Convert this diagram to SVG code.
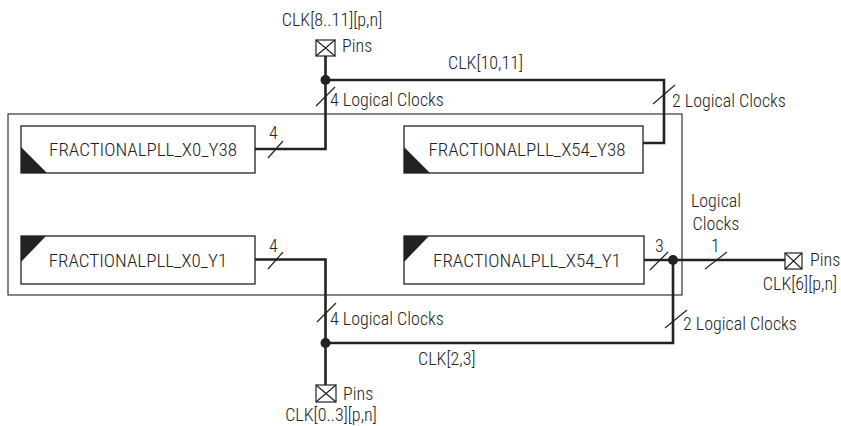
<svg xmlns="http://www.w3.org/2000/svg" width="841" height="426" viewBox="0 0 841 426">
<style>
text{font-family:"Liberation Sans Narrow","Roboto Condensed","Liberation Sans",sans-serif;font-size:18px;font-weight:300;fill:#222}
.lbl{font-size:19px}
.box{fill:#fff;stroke:#222;stroke-width:1.3}
.tri{fill:#222}
.w{fill:none;stroke:#222;stroke-width:2.6}
.sl{stroke:#222;stroke-width:1.2}
.pin{fill:#fff;stroke:#222;stroke-width:1.2}
.dot{fill:#222}
</style>
<rect id="frame" x="8" y="114" width="674" height="181" fill="none" stroke="#222" stroke-width="1.1"/>
<g id="connectors">
<path class="w" d="M325.5,56V149H255"/>
<path class="w" d="M325.5,80H664V143H643"/>
<path class="w" d="M255,259.5H325.5V385"/>
<path class="w" d="M325.5,343H673V260H644"/>
<path class="w" d="M673,260H785"/>
<line class="sl" x1="316" y1="106" x2="335" y2="87"/>
<line class="sl" x1="268" y1="158" x2="283" y2="141"/>
<line class="sl" x1="653" y1="104" x2="675" y2="85"/>
<line class="sl" x1="268" y1="269" x2="283" y2="252"/>
<line class="sl" x1="317" y1="322" x2="336" y2="303"/>
<line class="sl" x1="665" y1="328" x2="687" y2="310"/>
<line class="sl" x1="650" y1="270" x2="668" y2="252"/>
<line class="sl" x1="705" y1="269" x2="727" y2="252"/>
<circle class="dot" cx="325.5" cy="80" r="5"/>
<circle class="dot" cx="325.5" cy="343" r="5"/>
<circle class="dot" cx="673" cy="260" r="5"/>
<text x="330" y="106">4 Logical Clocks</text>
<text x="672" y="107">2 Logical Clocks</text>
<text x="330" y="325">4 Logical Clocks</text>
<text x="683" y="330">2 Logical Clocks</text>
<text x="448" y="69">CLK[10,11]</text>
<text x="418" y="365">CLK[2,3]</text>
<text x="269" y="139">4</text>
<text x="269" y="252">4</text>
<text x="655" y="252">3</text>
<text x="711" y="252">1</text>
<text x="716" y="207" text-anchor="middle">Logical</text>
<text x="716" y="230" text-anchor="middle">Clocks</text>
</g>
<g id="pins-top">
<rect class="pin" x="316" y="40" width="19" height="16"/>
<path class="sl" d="M316,40L335,56M335,40L316,56"/>
<text x="342" y="52">Pins</text>
<text x="332" y="26" text-anchor="middle">CLK[8..11][p,n]</text>
</g>
<g id="pins-bottom">
<rect class="pin" x="316" y="385" width="20" height="17"/>
<path class="sl" d="M316,385L336,402M336,385L316,402"/>
<text x="343" y="400">Pins</text>
<text x="331" y="421" text-anchor="middle">CLK[0..3][p,n]</text>
</g>
<g id="pins-right">
<rect class="pin" x="785" y="253" width="17" height="16"/>
<path class="sl" d="M785,253L802,269M802,253L785,269"/>
<text x="810" y="266">Pins</text>
<text x="800" y="290" text-anchor="middle">CLK[6][p,n]</text>
</g>
<g id="pll-x0-y38">
<rect class="box" x="21" y="126" width="234" height="47"/>
<path class="tri" d="M21,147L47,173H21Z"/>
<text class="lbl" x="143" y="156" text-anchor="middle">FRACTIONALPLL_X0_Y38</text>
</g>
<g id="pll-x54-y38">
<rect class="box" x="404" y="126" width="239" height="47"/>
<path class="tri" d="M404,147L430,173H404Z"/>
<text class="lbl" x="527" y="156" text-anchor="middle">FRACTIONALPLL_X54_Y38</text>
</g>
<g id="pll-x0-y1">
<rect class="box" x="21" y="236" width="234" height="48"/>
<path class="tri" d="M21,236H46L21,262Z"/>
<text class="lbl" x="138" y="267" text-anchor="middle">FRACTIONALPLL_X0_Y1</text>
</g>
<g id="pll-x54-y1">
<rect class="box" x="404" y="236" width="240" height="48"/>
<path class="tri" d="M404,236H429L404,262Z"/>
<text class="lbl" x="527" y="267" text-anchor="middle">FRACTIONALPLL_X54_Y1</text>
</g>
</svg>
